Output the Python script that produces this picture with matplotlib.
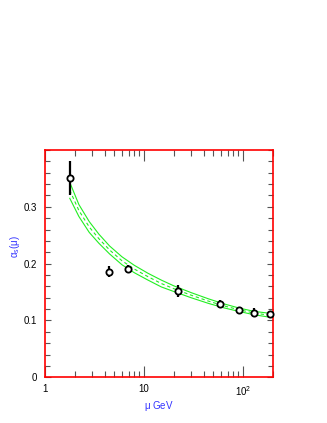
import matplotlib
matplotlib.use("Agg")
import matplotlib.pyplot as plt
from matplotlib.ticker import FixedLocator, FixedFormatter, MultipleLocator, LogLocator, NullFormatter

# data points
mu_pts = [1.78, 4.4, 6.9, 22.0, 58.0, 91.2, 130.0, 188.0]
as_pts = [0.351, 0.186, 0.191, 0.152, 0.129, 0.119, 0.114, 0.111]
as_err = [0.030, 0.009, 0.007, 0.010, 0.007, 0.003, 0.008, 0.004]

# theory band
mu_curve = [1.78, 2.2, 2.8, 3.5, 4.5, 6.0, 8.0, 11.0, 15.0, 20.0, 30.0, 45.0, 65.0, 91.0, 130.0, 200.0]
as_hi = [0.343, 0.304, 0.274, 0.252, 0.231, 0.212, 0.197, 0.183, 0.171, 0.161, 0.149, 0.138, 0.129, 0.122, 0.116, 0.112]
as_lo = [0.315, 0.283, 0.255, 0.236, 0.217, 0.198, 0.184, 0.171, 0.159, 0.151, 0.140, 0.130, 0.122, 0.116, 0.110, 0.105]
as_mid = [(a + b) / 2 for a, b in zip(as_hi, as_lo)]

xticks = [1, 10, 100]
xticklabels = ["1", "10", r"10$^{2}$"]
yticks = [0, 0.1, 0.2, 0.3]
yticklabels = ["0", "0.1", "0.2", "0.3"]

plt.rcParams['font.family'] = ['Liberation Sans', 'DejaVu Sans']
plt.rcParams['mathtext.fontset'] = 'custom'
plt.rcParams['mathtext.rm'] = 'Liberation Sans'
plt.rcParams['mathtext.it'] = 'Liberation Sans'

fig = plt.figure(figsize=(3.27, 4.23), dpi=100)
ax = fig.add_axes([0.1376, 0.108, 0.834 - 0.1376, 0.6454 - 0.108])

green = '#22ee22'
ax.plot(mu_curve, as_hi, color=green, lw=0.8)
ax.plot(mu_curve, as_lo, color=green, lw=0.8)
ax.plot(mu_curve, as_mid, color=green, lw=0.8, dashes=(3, 2.5))

ax.errorbar(mu_pts, as_pts, yerr=as_err, fmt='o', ms=4.5, mfc='white', mec='black',
            mew=1.3, ecolor='black', elinewidth=1.6, capsize=0, zorder=5, clip_on=False)

ax.set_xscale('log')
ax.set_xlim(1, 200)
ax.set_ylim(0, 0.4)

ax.xaxis.set_major_locator(FixedLocator(xticks))
ax.xaxis.set_major_formatter(FixedFormatter(xticklabels))
ax.xaxis.set_minor_locator(LogLocator(base=10, subs=range(2, 10)))
ax.xaxis.set_minor_formatter(NullFormatter())
ax.yaxis.set_major_locator(FixedLocator(yticks))
ax.yaxis.set_major_formatter(FixedFormatter(yticklabels))
ax.yaxis.set_minor_locator(MultipleLocator(0.02))

ax.tick_params(which='both', direction='in', top=True, right=True, colors='#555555',
               labelcolor='black', labelsize=7, width=0.8)
ax.tick_params(axis='x', which='major', length=8, pad=5)
ax.tick_params(axis='x', which='minor', length=4.5)
ax.tick_params(axis='y', which='major', length=4.5, pad=6)
ax.tick_params(axis='y', which='minor', length=3.5)

for s in ax.spines.values():
    s.set_color('red')
    s.set_linewidth(1.2)

ax.set_xlabel(r'$\mu$ GeV', color='#3333ff', fontsize=7, labelpad=1)
ax.set_ylabel(r'$\alpha_s(\mu)$', color='#3333ff', fontsize=7, labelpad=-2)
ax.yaxis.set_label_coords(-0.10, 0.575)

fig.savefig('out.png', dpi=100, facecolor='white')
